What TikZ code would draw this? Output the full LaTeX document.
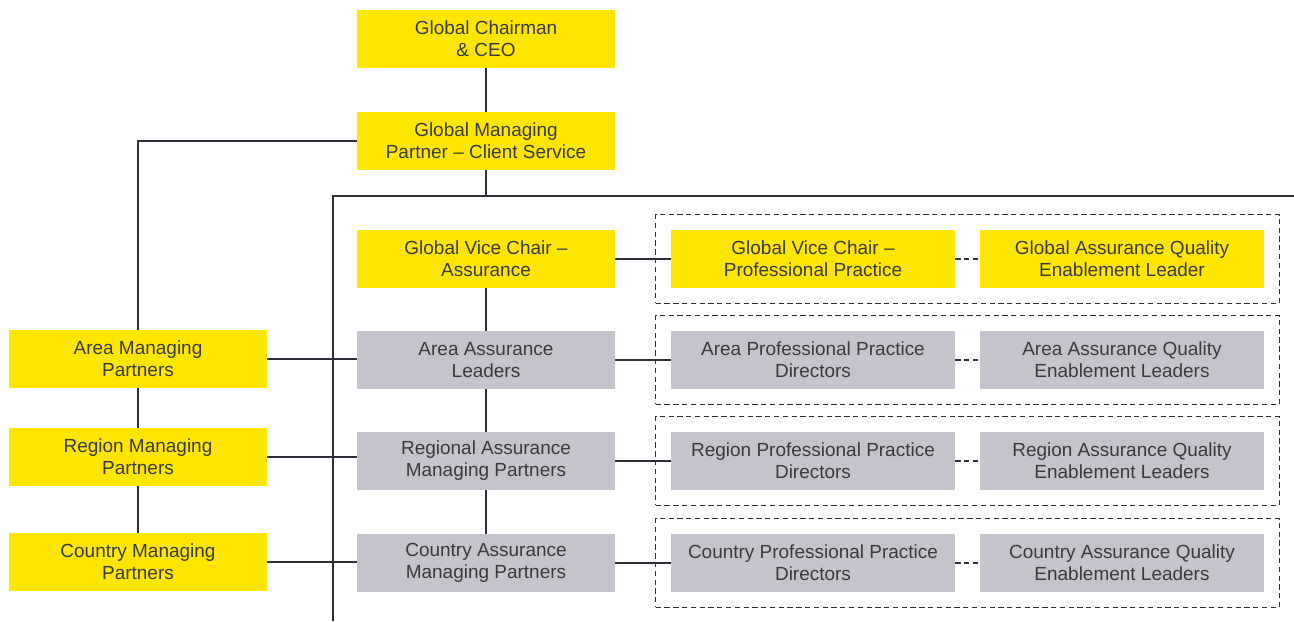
\documentclass[tikz,border=0pt]{standalone}
\usepackage{fontspec}
\setmainfont{Liberation Sans}
\usetikzlibrary{positioning,fit,calc}
\definecolor{eyyellow}{HTML}{FFE600}
\definecolor{eygrey}{HTML}{C4C4CC}
\definecolor{eyline}{HTML}{2E2E38}
\definecolor{eytext}{HTML}{3A3A3A}
\tikzstyle{box} = [text=eytext, align=center,
	font=\fontsize{10.8}{12.5}\selectfont,
	minimum width = 5.16cm,
	minimum height = 1.16cm, inner sep=0pt]
\tikzstyle{wbox} = [box, minimum width = 5.68cm]
\tikzstyle{ybox} = [fill=eyyellow]
\tikzstyle{gbox} = [fill=eygrey]
\tikzstyle{link} = [draw=eyline, line width=0.6pt]
\tikzstyle{mainlink} = [draw=eyline, line width=1.1pt]
\tikzstyle{dlink} = [link, dash pattern=on 3pt off 2pt]
\tikzstyle{group} = [draw=eyline, line width=0.6pt, dash pattern=on 3pt off 2pt, inner xsep=0.3cm, inner ysep=0.3cm]

\begin{document}
\begin{tikzpicture}[x=0.2mm,y=-0.2mm]
	\useasboundingbox (0,0) rectangle (1294,621);
	% top of the chart
	\node (ceo) [box, ybox] at (486,39) {Global Chairman\\\& CEO};
	\node (gmp) [box, ybox] at (486,141) {Global Managing\\Partner -- Client Service};
	
	% left column
	\node (amp) [box, ybox] at (138,359) {Area Managing\\Partners};
	\node (rmp) [box, ybox] at (138,457) {Region Managing\\Partners};
	\node (cmp) [box, ybox] at (138,562) {Country Managing\\Partners};
	
	% assurance column
	\node (gvca) [box, ybox] at (486,259) {Global Vice Chair --\\Assurance};
	\node (aal) [box, gbox] at (486,360) {Area Assurance\\Leaders};
	\node (rap) [box, gbox] at (486,461) {Regional Assurance\\Managing Partners};
	\node (cap) [box, gbox] at (486,563) {Country Assurance\\Managing Partners};
	
	% professional practice
	\node (gpp) [wbox, ybox] at (813,259) {Global Vice Chair --\\Professional Practice};
	\node (app) [wbox, gbox] at (813,360) {Area Professional Practice\\Directors};
	\node (rpp) [wbox, gbox] at (813,461) {Region Professional Practice\\Directors};
	\node (cpp) [wbox, gbox] at (813,563) {Country Professional Practice\\Directors};
	
	% quality enablement
	\node (gqe) [wbox, ybox] at (1122,259) {Global Assurance Quality\\Enablement Leader};
	\node (aqe) [wbox, gbox] at (1122,360) {Area Assurance Quality\\Enablement Leaders};
	\node (rqe) [wbox, gbox] at (1122,461) {Region Assurance Quality\\Enablement Leaders};
	\node (cqe) [wbox, gbox] at (1122,563) {Country Assurance Quality\\Enablement Leaders};
	
	\node (g1) [group, fit=(gpp) (gqe)] {};
	\node (g2) [group, fit=(app) (aqe)] {};
	\node (g3) [group, fit=(rpp) (rqe)] {};
	\node (g4) [group, fit=(cpp) (cqe)] {};
	
	% frame
	\coordinate (fb) at (333,621);
	\coordinate (ft) at (333,196);
	\coordinate (fr) at (1294,196);
	\draw [mainlink] (fb) -- (ft) -- (fr);
	
	\draw [link] (ceo) -- (gmp);
	\draw [link] (gmp) -- (gmp |- ft);
	\draw [mainlink] (gmp.west) -| (amp.north);
	\draw [link] (amp) -- (rmp);
	\draw [link] (rmp) -- (cmp);
	\draw [link] (gvca) -- (aal);
	\draw [link] (aal) -- (rap);
	\draw [link] (rap) -- (cap);
	
	\draw [link] (amp.east) -- (aal.west |- amp.east);
	\draw [link] (rmp.east) -- (rap.west |- rmp.east);
	\draw [link] (cmp.east) -- (cap.west |- cmp.east);
	
	\draw [link] (gvca) -- (gpp);
	\draw [link] (aal) -- (app);
	\draw [link] (rap) -- (rpp);
	\draw [link] (cap) -- (cpp);
	
	\draw [dlink] (gpp) -- (gqe);
	\draw [dlink] (app) -- (aqe);
	\draw [dlink] (rpp) -- (rqe);
	\draw [dlink] (cpp) -- (cqe);
\end{tikzpicture}
\end{document}
